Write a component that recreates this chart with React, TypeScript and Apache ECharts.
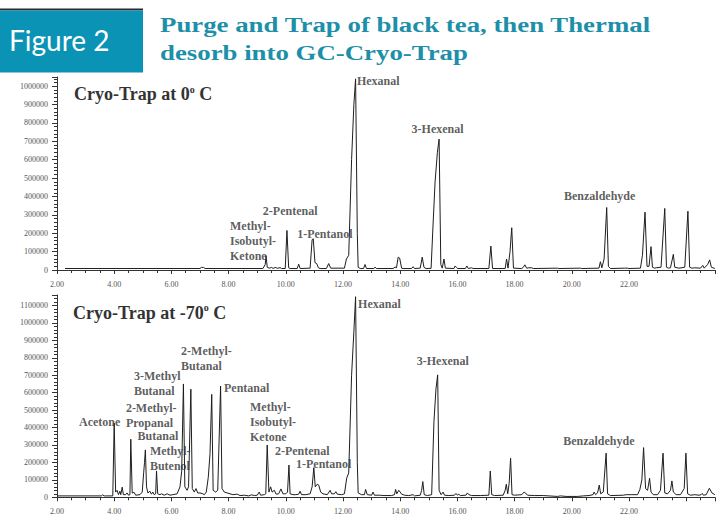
import React, { useEffect, useRef } from "react";
import * as echarts from "echarts";

// ---------- data (time in minutes, abundance) ----------
const topTrace: [number, number][] = [
  [2.28, 8000], [7.0, 8000], [7.05, 14000], [7.12, 14000], [7.18, 8000],
  [9.2, 8000], [9.28, 30000], [9.31, 78000], [9.35, 15000], [9.42, 10000], [9.5, 14000], [9.55, 9000], [9.65, 14000], [9.7, 9000], [9.8, 13000], [9.85, 8000],
  [9.98, 8000], [10.04, 215000], [10.1, 12000], [10.15, 8000],
  [10.4, 8000], [10.45, 32000], [10.5, 8000],
  [10.85, 10000], [10.92, 165000], [10.96, 170000], [11.02, 40000], [11.08, 35000], [11.14, 12000], [11.2, 8000],
  [11.42, 8000], [11.5, 35000], [11.57, 10000],
  [12.05, 10000], [12.12, 60000], [12.2, 80000], [12.3, 600000], [12.38, 900000], [12.44, 1040000], [12.5, 200000], [12.53, 15000], [12.6, 8000],
  [12.72, 8000], [12.77, 30000], [12.82, 8000],
  [13.08, 8000], [13.12, 16000], [13.17, 8000],
  [13.75, 8000], [13.82, 16000], [13.87, 12000], [13.93, 70000], [13.98, 65000], [14.05, 10000], [14.1, 8000],
  [14.4, 8000], [14.45, 18000], [14.5, 8000],
  [14.7, 10000], [14.77, 70000], [14.83, 15000], [14.9, 8000],
  [15.08, 9000], [15.15, 250000], [15.22, 480000], [15.3, 640000], [15.36, 712000], [15.42, 30000], [15.47, 10000], [15.53, 60000], [15.58, 10000],
  [15.88, 8000], [15.92, 22000], [15.97, 14000], [16.0, 8000],
  [16.28, 8000], [16.33, 22000], [16.38, 8000], [16.5, 12000], [16.55, 8000],
  [17.1, 8000], [17.17, 130000], [17.23, 8000],
  [17.67, 8000], [17.72, 60000], [17.77, 10000], [17.84, 100000], [17.9, 230000], [17.96, 10000],
  [18.25, 8000], [18.3, 14000], [18.36, 28000], [18.42, 10000], [18.5, 12000], [18.6, 12000], [18.65, 8000],
  [19.5, 10000], [19.55, 8000], [20.3, 10000], [20.35, 8000],
  [20.95, 10000], [21.0, 45000], [21.05, 12000], [21.13, 60000], [21.22, 340000], [21.28, 20000], [21.35, 8000],
  [21.85, 10000], [21.95, 10000], [22.0, 8000],
  [22.4, 10000], [22.47, 80000], [22.56, 315000], [22.63, 20000], [22.7, 20000], [22.77, 127000], [22.82, 15000], [22.9, 10000], [22.95, 12000],
  [23.12, 15000], [23.25, 335000], [23.31, 15000], [23.38, 10000], [23.45, 12000], [23.55, 85000], [23.6, 15000], [23.68, 12000], [23.75, 10000],
  [23.95, 15000], [24.06, 320000], [24.12, 15000], [24.2, 10000], [24.3, 12000],
  [24.5, 10000], [24.58, 25000], [24.63, 10000], [24.75, 30000], [24.82, 55000], [24.88, 15000], [25.0, 8000],
];

const bottomTrace: [number, number][] = [
  [2.0, 8000], [3.55, 8000], [3.6, 14000], [3.65, 8000],
  [3.95, 8000], [4.0, 425000], [4.05, 30000], [4.1, 40000], [4.15, 15000], [4.2, 35000], [4.23, 15000], [4.28, 58000], [4.32, 15000], [4.4, 15000], [4.45, 25000], [4.5, 12000],
  [4.55, 15000], [4.58, 333000], [4.63, 25000], [4.7, 28000], [4.75, 12000], [4.9, 15000],
  [4.98, 30000], [5.03, 140000], [5.06, 200000], [5.09, 272000], [5.13, 60000], [5.18, 25000], [5.25, 35000], [5.3, 18000], [5.35, 30000], [5.4, 15000],
  [5.45, 20000], [5.48, 151000], [5.52, 20000], [5.6, 15000], [5.65, 20000], [5.75, 12000], [5.85, 20000], [5.95, 12000], [6.05, 15000], [6.2, 20000],
  [6.3, 60000], [6.36, 150000], [6.42, 650000], [6.47, 60000], [6.55, 40000], [6.6, 60000], [6.68, 620000], [6.73, 50000], [6.8, 30000], [6.86, 50000], [6.92, 25000], [7.0, 25000], [7.1, 20000], [7.15, 15000],
  [7.22, 30000], [7.29, 115000], [7.35, 250000], [7.41, 590000], [7.46, 40000], [7.55, 30000], [7.62, 40000], [7.72, 638000], [7.77, 50000], [7.85, 30000], [7.95, 25000], [8.05, 20000], [8.15, 15000], [8.3, 18000], [8.4, 10000], [8.55, 12000], [8.7, 8000], [8.8, 14000], [8.9, 10000], [9.0, 12000],
  [9.07, 30000], [9.12, 12000], [9.25, 15000],
  [9.3, 20000], [9.35, 300000], [9.41, 30000], [9.47, 60000], [9.52, 30000], [9.6, 40000], [9.66, 18000], [9.75, 20000], [9.83, 48000], [9.9, 20000], [10.0, 20000],
  [10.06, 30000], [10.11, 185000], [10.15, 20000], [10.25, 15000], [10.35, 15000], [10.45, 18000], [10.5, 35000], [10.55, 15000], [10.7, 15000], [10.85, 20000],
  [10.92, 60000], [10.98, 170000], [11.03, 60000], [11.1, 75000], [11.15, 70000], [11.22, 30000], [11.3, 20000], [11.45, 15000], [11.55, 40000], [11.6, 20000], [11.7, 20000], [11.75, 32000], [11.8, 18000], [11.95, 15000],
  [12.05, 20000], [12.13, 110000], [12.2, 140000], [12.3, 700000], [12.38, 950000], [12.44, 1150000], [12.5, 200000], [12.53, 25000], [12.65, 15000],
  [12.75, 15000], [12.79, 45000], [12.85, 15000], [13.0, 12000], [13.05, 30000], [13.1, 12000], [13.3, 12000], [13.4, 10000], [13.7, 10000],
  [13.8, 15000], [13.84, 45000], [13.88, 20000], [13.95, 40000], [14.0, 30000], [14.05, 18000], [14.15, 12000], [14.3, 10000], [14.45, 15000], [14.5, 8000], [14.7, 12000],
  [14.75, 40000], [14.79, 90000], [14.84, 15000], [14.95, 10000],
  [15.1, 15000], [15.18, 434000], [15.25, 620000], [15.31, 702000], [15.36, 40000], [15.43, 15000], [15.5, 30000], [15.55, 12000], [15.7, 10000],
  [15.9, 12000], [15.95, 22000], [16.0, 12000], [16.05, 18000], [16.1, 10000], [16.3, 12000], [16.35, 25000], [16.4, 15000], [16.5, 10000], [16.8, 10000],
  [17.1, 12000], [17.15, 151000], [17.2, 15000], [17.3, 10000],
  [17.6, 12000], [17.67, 40000], [17.71, 75000], [17.76, 20000], [17.81, 80000], [17.86, 224000], [17.91, 15000], [18.0, 12000],
  [18.25, 15000], [18.33, 30000], [18.38, 25000], [18.45, 12000], [18.7, 10000], [19.0, 10000], [19.5, 5000], [19.6, 8000], [19.8, 5000], [20.2, 5000], [20.4, 8000], [20.6, 10000],
  [20.74, 15000], [20.78, 30000], [20.83, 15000], [20.9, 25000], [20.96, 70000], [21.01, 20000], [21.1, 30000], [21.2, 253000], [21.25, 20000], [21.35, 10000],
  [21.8, 12000], [21.9, 15000], [22.1, 15000], [22.3, 15000],
  [22.38, 45000], [22.45, 100000], [22.51, 285000], [22.58, 50000], [22.65, 40000], [22.72, 109000], [22.77, 30000], [22.85, 15000], [23.0, 15000],
  [23.1, 40000], [23.19, 253000], [23.25, 25000], [23.35, 20000], [23.45, 40000], [23.5, 94000], [23.55, 30000], [23.65, 15000], [23.8, 15000],
  [23.93, 50000], [23.99, 253000], [24.05, 20000], [24.15, 12000], [24.3, 15000], [24.45, 12000],
  [24.52, 15000], [24.56, 22000], [24.6, 12000], [24.7, 15000], [24.81, 52000], [24.9, 25000], [25.0, 15000],
];

// compound names and their annotation anchors (time, abundance) – top-left of label
const topNames = ["Hexanal", "3-Hexenal", "Benzaldehyde", "2-Pentenal", "Methyl-\nIsobutyl-\nKetone", "1-Pentanol"];
const topAnchors: [number, number][] = [[12.49, 1068000], [14.4, 805000], [19.73, 443000], [9.2, 361000], [8.05, 280000], [10.4, 236000]];

const bottomNames = [
  "Hexanal", "3-Hexenal", "Benzaldehyde", "Acetone", "2-Methyl-\nPropanal", "3-Methyl\nButanal", "Butanal",
  "Methyl-\nButenol", "2-Methyl-\nButanal", "Pentanal", "Methyl-\nIsobutyl-\nKetone", "2-Pentenal", "1-Pentanol",
];
const bottomAnchors: [number, number][] = [
  [12.53, 1153000], [14.58, 822000], [19.7, 368000], [2.77, 475000], [4.41, 554000], [4.69, 739000], [4.82, 397000],
  [5.25, 309000], [6.34, 883000], [7.84, 669000], [8.75, 560000], [9.62, 309000], [10.36, 233000],
];

const xTickLabels = ["2.00", "4.00", "6.00", "8.00", "10.00", "12.00", "14.00", "16.00", "18.00", "20.00", "22.00"];
const topYTickLabels = ["0", "100000", "200000", "300000", "400000", "500000", "600000", "700000", "800000", "900000", "1000000"];
const bottomYTickLabels = [...topYTickLabels, "1100000"];

const headerTitle = ["Purge and Trap of black tea, then Thermal", "desorb into GC-Cryo-Trap"];
const panelTitles = ["0", "-70"];

const SERIF = "'Liberation Serif', 'Times New Roman', serif";

export default function App() {
  const ref = useRef<HTMLDivElement>(null);
  useEffect(() => {
    if (!ref.current) return;
    const chart = echarts.init(ref.current, undefined, { renderer: "svg" });

    const xLabel = (v: number) => {
      const s = v.toFixed(2);
      return xTickLabels.includes(s) ? s : "";
    };
    const yLabel = (labels: string[]) => (v: number) => {
      const s = String(Math.round(v));
      return labels.includes(s) ? s : "";
    };

    const makeX = (gridIndex: number, offset: number, margin: number) => ({
      type: "value",
      gridIndex,
      min: 2,
      max: 25,
      interval: 2,
      offset,
      axisLine: { lineStyle: { color: "#333", width: 1 } },
      axisTick: { length: 4, lineStyle: { color: "#333" } },
      minorTick: { show: true, splitNumber: 4, length: 3, lineStyle: { color: "#333" } },
      splitLine: { show: false },
      axisLabel: { formatter: xLabel, fontFamily: SERIF, fontSize: 8, color: "#555", margin },
    });
    const makeY = (gridIndex: number, max: number, labels: string[]) => ({
      type: "value",
      gridIndex,
      min: 0,
      max,
      interval: 100000,
      axisLine: { show: true, lineStyle: { color: "#333", width: 1 } },
      axisTick: { show: true, length: 5, lineStyle: { color: "#333" } },
      minorTick: { show: true, splitNumber: 5, length: 3, lineStyle: { color: "#333" } },
      splitLine: { show: false },
      axisLabel: { formatter: yLabel(labels), fontFamily: SERIF, fontSize: 8, color: "#555", margin: 9 },
    });

    const labelSeries = (idx: number, names: string[], anchors: [number, number][]) => ({
      type: "scatter",
      xAxisIndex: idx,
      yAxisIndex: idx,
      symbolSize: 0.1,
      clip: false,
      silent: true,
      z: 5,
      itemStyle: { color: "transparent" },
      data: names.map((n, i) => ({ name: n, value: anchors[i] })),
      label: {
        show: true,
        position: [0, 0],
        align: "left",
        verticalAlign: "top",
        formatter: "{b}",
        fontFamily: SERIF,
        fontWeight: "bold",
        fontSize: 12,
        lineHeight: 15,
        color: "#333",
      },
    });

    const traceSeries = (idx: number, data: [number, number][]) => ({
      type: "line",
      xAxisIndex: idx,
      yAxisIndex: idx,
      data,
      showSymbol: false,
      symbol: "none",
      lineStyle: { color: "#1e1e1e", width: 1 },
      silent: true,
    });

    const panelTitle = (x: number, y: number, t: string) => ({
      type: "text",
      x,
      y,
      style: {
        text: `{a|Cryo-Trap at ${t}}{s|o}{a| C}`,
        verticalAlign: "middle",
        rich: {
          a: { fontFamily: SERIF, fontWeight: "bold", fontSize: 18, lineHeight: 20, fill: "#333" },
          s: { fontFamily: SERIF, fontWeight: "bold", fontSize: 10, lineHeight: 10, verticalAlign: "top", fill: "#333" },
        },
      },
    });

    chart.setOption({
      animation: false,
      backgroundColor: "#fff",
      grid: [
        { left: 57, right: 2.2, top: 77, bottom: 523 - 270, outerBoundsMode: "none", containLabel: false },
        { left: 57, right: 2.2, top: 295, bottom: 523 - 497.3, outerBoundsMode: "none", containLabel: false },
      ],
      xAxis: [makeX(0, 4, 6), makeX(1, 3, 7)],
      yAxis: [makeY(0, 1050000, topYTickLabels), makeY(1, 1160000, bottomYTickLabels)],
      series: [
        traceSeries(0, topTrace),
        traceSeries(1, bottomTrace),
        labelSeries(0, topNames, topAnchors),
        labelSeries(1, bottomNames, bottomAnchors),
      ],
      graphic: [
        { type: "rect", shape: { x: 0, y: 8.5, width: 143, height: 2 }, style: { fill: "#2a2a2a" } },
        { type: "rect", shape: { x: 0, y: 10.5, width: 143, height: 62 }, style: { fill: "#0b93b5" } },
        {
          type: "text",
          x: 9,
          y: 40,
          style: { text: "Figure 2", fontFamily: "Lato, 'Open Sans', sans-serif", fontSize: 28, fill: "#ffffff", verticalAlign: "middle" },
        },
        {
          type: "text",
          x: 160,
          y: 24,
          scaleX: 1.22,
          style: { text: headerTitle[0], fontFamily: SERIF, fontWeight: "bold", fontSize: 22, fill: "#1d8fa9", verticalAlign: "middle" },
        },
        {
          type: "text",
          x: 160,
          y: 52,
          scaleX: 1.22,
          style: { text: headerTitle[1], fontFamily: SERIF, fontWeight: "bold", fontSize: 22, fill: "#1d8fa9", verticalAlign: "middle" },
        },
        panelTitle(74, 94, panelTitles[0]),
        panelTitle(73, 312.7, panelTitles[1]),
      ],
    });
    return () => chart.dispose();
  }, []);
  return <div ref={ref} style={{ position: "fixed", left: 0, top: 0, width: 717, height: 523 }} />;
}
